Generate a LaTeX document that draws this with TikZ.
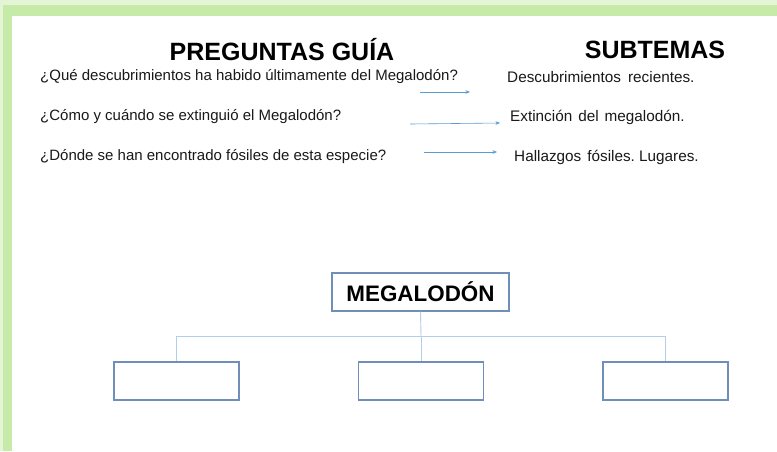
\documentclass[tikz,border=0pt]{standalone}
\usepackage{fontspec}
\setmainfont{Liberation Sans}
\usetikzlibrary{arrows.meta}
\definecolor{greenb}{HTML}{C6EAA8}
\definecolor{greenl}{HTML}{E4F5D6}
\definecolor{boxc}{HTML}{6F8FBA}
\definecolor{linec}{HTML}{B4CDEA}
\definecolor{arrc}{HTML}{5B9BD5}
\tikzset{
  hdr/.style={font=\bfseries\fontsize{25}{27}\selectfont, inner sep=0pt},
  qtxt/.style={font=\fontsize{15}{16}\selectfont, anchor=west, inner sep=0pt, text=black!90},
  stxt/.style={font=\fontsize{15.3}{17}\selectfont, anchor=west, inner sep=0pt, text=black!90},
  arr/.style={draw=arrc, line width=0.6pt, -{Stealth[length=4.5pt,width=3.5pt]}},
  boxn/.style={draw=boxc, line width=1.1pt, minimum width=125pt, minimum height=38pt, inner sep=0pt},
  conn/.style={draw=linec, line width=0.9pt},
}
\begin{document}
\begin{tikzpicture}[x=1pt,y=-1pt]
\useasboundingbox (0,0) rectangle (777,451);
% green frame
\fill[greenb] (0,0) rectangle (777,451);
\fill[greenl] (0,0) rectangle (777,5);
\fill[greenl] (0,0) rectangle (3,451);
\fill[white] (12,16) rectangle (777,451);
% headers
\node[hdr] (h1) at (282,50) {PREGUNTAS\ GUÍA};
\node[hdr] (h2) at (655,50) {SUBTEMAS};
% questions
\node[qtxt] (q1) at (40,77) {¿Qué descubrimientos ha habido últimamente del Megalodón?};
\node[qtxt] (q2) at (40,117) {¿Cómo y cuándo se extinguió el Megalodón?};
\node[qtxt] (q3) at (40,157) {¿Dónde se han encontrado fósiles de esta especie?};
% subtopics
\node[stxt] (s1) at (507,77) {Descubrimientos\hspace{7pt}recientes.};
\node[stxt] (s2) at (510,117) {Extinción\hspace{6pt}del\hspace{6pt}megalodón.};
\node[stxt] (s3) at (514,157) {Hallazgos\hspace{6pt}fósiles.\ Lugares.};
% arrows
\coordinate (a1s) at (420,92); \coordinate (a1e) at (470,92);
\coordinate (a2s) at (410,124); \coordinate (a2e) at (500,123);
\coordinate (a3s) at (424,152); \coordinate (a3e) at (497,152);
\draw[arr] (a1s) -- (a1e);
\draw[arr] (a2s) -- (a2e);
\draw[arr] (a3s) -- (a3e);
% tree
\node[boxn, minimum width=177pt, minimum height=38pt, font=\bfseries\fontsize{22.4}{24}\selectfont] (m) at (420.5,292) {MEGALODÓN};
\node[boxn] (b1) at (176.5,381) {};
\node[boxn] (b2) at (421,381) {};
\node[boxn] (b3) at (665.5,381) {};
\coordinate (j) at (421,336);
\draw[conn] (m.south) -- (j);
\draw[conn] (j) -| (b1.north);
\draw[conn] (j) -- (b2.north);
\draw[conn] (j) -| (b3.north);
\end{tikzpicture}
\end{document}
